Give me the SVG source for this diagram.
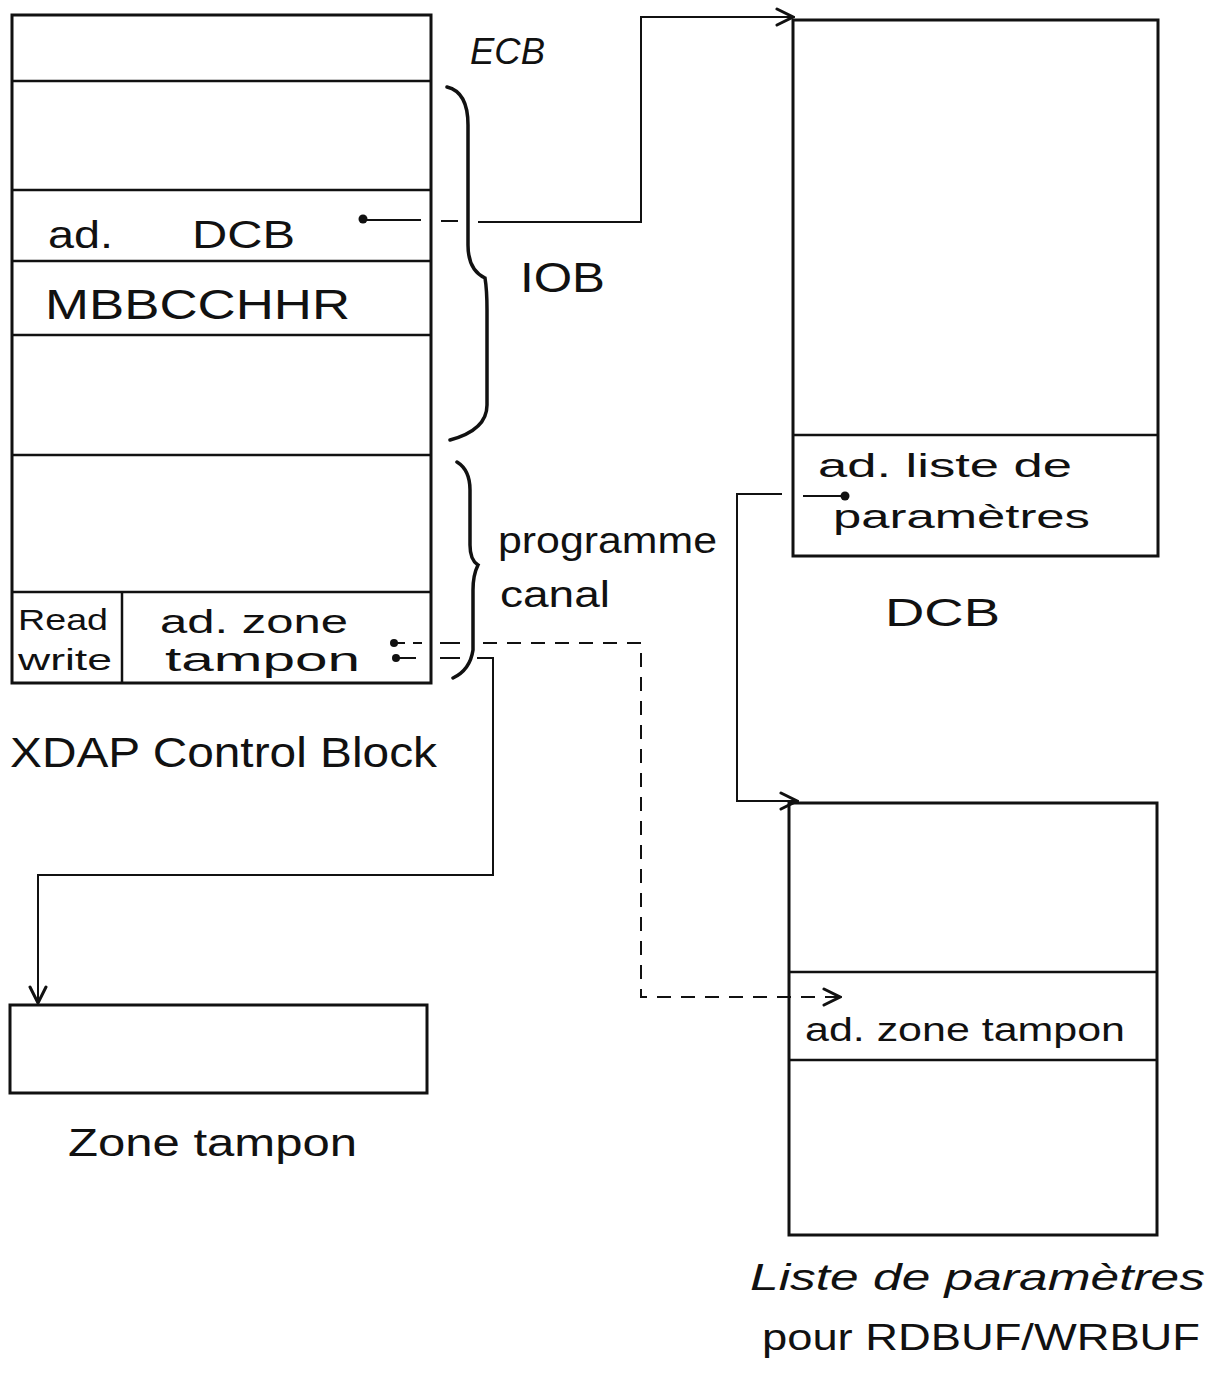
<svg xmlns="http://www.w3.org/2000/svg" width="1221" height="1376" viewBox="0 0 1221 1376">
<defs>
<style>
.box{fill:none;stroke:#111;stroke-width:3}
.div{stroke:#111;stroke-width:2.5}
.con{fill:none;stroke:#111;stroke-width:2}
.dash{fill:none;stroke:#111;stroke-width:2;stroke-dasharray:14 10}
.br{fill:none;stroke:#111;stroke-width:3.5;stroke-linecap:round}
text{font-family:"Liberation Sans","DejaVu Sans",sans-serif;fill:#111}
.t{font-size:38px}
.s{font-size:34px}
</style>
<marker id="ah" markerWidth="20" markerHeight="20" refX="18" refY="10" orient="auto" markerUnits="userSpaceOnUse">
<path d="M2,2 L18,10 L2,18" fill="none" stroke="#111" stroke-width="3" stroke-linecap="round"/>
</marker>
</defs>
<rect width="1221" height="1376" fill="#fff"/>

<g id="xdap">
<rect class="box" x="12" y="15" width="419" height="668"/>
<line class="div" x1="12" y1="81" x2="431" y2="81"/>
<line class="div" x1="12" y1="190" x2="431" y2="190"/>
<line class="div" x1="12" y1="261" x2="431" y2="261"/>
<line class="div" x1="12" y1="335" x2="431" y2="335"/>
<line class="div" x1="12" y1="455" x2="431" y2="455"/>
<line class="div" x1="12" y1="592" x2="431" y2="592"/>
<line class="div" x1="122" y1="592" x2="122" y2="683"/>
<text class="t" x="48" y="248" textLength="65" lengthAdjust="spacingAndGlyphs">ad.</text>
<text class="t" x="192" y="248" textLength="103" lengthAdjust="spacingAndGlyphs">DCB</text>
<text x="45" y="319" font-size="42" textLength="305" lengthAdjust="spacingAndGlyphs">MBBCCHHR</text>
<text x="18" y="630" font-size="30" textLength="90" lengthAdjust="spacingAndGlyphs">Read</text>
<text x="18" y="670" font-size="30" textLength="94" lengthAdjust="spacingAndGlyphs">write</text>
<text class="s" x="160" y="633" textLength="188" lengthAdjust="spacingAndGlyphs">ad. zone</text>
<text class="s" x="165" y="671" textLength="195" lengthAdjust="spacingAndGlyphs">tampon</text>
<text x="470" y="64" font-size="36" font-style="italic" textLength="75" lengthAdjust="spacingAndGlyphs">ECB</text>
<text x="520" y="292" font-size="42" textLength="85" lengthAdjust="spacingAndGlyphs">IOB</text>
<text x="498" y="553" font-size="36" textLength="219" lengthAdjust="spacingAndGlyphs">programme</text>
<text x="500" y="607" font-size="36" textLength="110" lengthAdjust="spacingAndGlyphs">canal</text>
<text x="10" y="767" font-size="42" textLength="427" lengthAdjust="spacingAndGlyphs">XDAP Control Block</text>
<path class="br" d="M447,87 Q468,92 468,125 L468,245 Q468,270 485,278 Q487,290 487,310 L487,405 Q487,430 450,440"/>
<path class="br" d="M457,462 Q470,470 470,490 L470,545 Q470,560 478,565 Q473,575 473,590 L473,650 Q470,670 453,678"/>
</g>

<g id="dcb">
<rect class="box" x="793" y="20" width="365" height="536"/>
<line class="div" x1="793" y1="435" x2="1158" y2="435"/>
<text class="s" x="818" y="477" textLength="254" lengthAdjust="spacingAndGlyphs">ad. liste de</text>
<text class="s" x="833" y="528" textLength="257" lengthAdjust="spacingAndGlyphs">paramètres</text>
<text x="885" y="626" font-size="38" textLength="115" lengthAdjust="spacingAndGlyphs">DCB</text>
</g>

<g id="liste">
<rect class="box" x="789" y="803" width="368" height="432"/>
<line class="div" x1="789" y1="972" x2="1157" y2="972"/>
<line class="div" x1="789" y1="1060" x2="1157" y2="1060"/>
<text class="s" x="805" y="1041" textLength="320" lengthAdjust="spacingAndGlyphs">ad. zone tampon</text>
<text x="750" y="1290" font-size="36" font-style="italic" textLength="455" lengthAdjust="spacingAndGlyphs">Liste de paramètres</text>
<text x="762" y="1350" font-size="36" textLength="438" lengthAdjust="spacingAndGlyphs">pour RDBUF/WRBUF</text>
</g>

<g id="zone">
<rect class="box" x="10" y="1005" width="417" height="88"/>
<text x="68" y="1156" font-size="38" textLength="289" lengthAdjust="spacingAndGlyphs">Zone tampon</text>
</g>

<g id="connectors">
<circle cx="363" cy="219" r="4.5" fill="#111"/>
<line class="con" x1="363" y1="220" x2="421" y2="220"/>
<line class="con" x1="441" y1="221" x2="458" y2="221"/>
<path class="con" d="M478,222 L641,222 L641,17 L793,17" marker-end="url(#ah)"/>

<circle cx="845" cy="496" r="4.5" fill="#111"/>
<line class="con" x1="845" y1="496" x2="803" y2="496"/>
<path class="con" d="M782,494 L737,494 L737,801 L797,801" marker-end="url(#ah)"/>

<circle cx="394" cy="643" r="4" fill="#111"/>
<line class="con" x1="394" y1="643" x2="405" y2="643"/>
<line class="con" x1="413" y1="643" x2="422" y2="643"/>
<line class="con" x1="440" y1="643" x2="460" y2="643"/>
<path class="dash" d="M483,643 L641,643 L641,997 L840,997" marker-end="url(#ah)"/>

<circle cx="396" cy="658" r="4" fill="#111"/>
<line class="con" x1="396" y1="658" x2="416" y2="658"/>
<line class="con" x1="440" y1="658" x2="460" y2="658"/>
<path class="con" d="M477,658 L493,658 L493,875 L38,875 L38,1003" marker-end="url(#ah)"/>
</g>
</svg>
